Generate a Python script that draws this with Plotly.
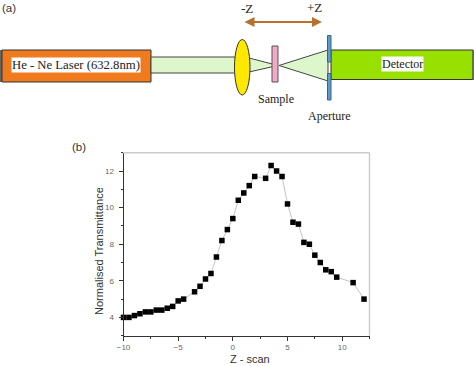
import plotly.graph_objects as go

z_scan = [-10, -9.5, -9, -8.5, -8, -7.5, -7, -6.5, -6, -5.5, -5, -4.5, -3.5, -3, -2.5, -2, -1.5, -1, -0.5, 0,
          0.5, 1, 1.5, 2, 3, 3.5, 4, 4.5, 5, 5.5, 6, 6.5, 7, 7.5, 8, 8.5, 9, 9.5, 11, 12]
transmittance = [4.0, 4.0, 4.1, 4.2, 4.3, 4.3, 4.4, 4.4, 4.5, 4.6, 4.9, 5.0, 5.4, 5.7, 6.1, 6.4, 7.3, 8.2, 8.8, 9.4,
                 10.4, 10.8, 11.2, 11.7, 11.6, 12.3, 12.0, 11.7, 10.2, 9.2, 9.1, 8.1, 8.0, 7.4, 7.0, 6.6, 6.5, 6.2, 5.9, 5.0]
x_ticks = [-10, -5, 0, 5, 10]
y_ticks = [4, 6, 8, 10, 12]

W, H = 474, 366
L, R, T, B = 123.5, 369.5, 152.7, 335.7

def px(x): return x / W
def py(y): return 1 - y / H

def rect(x0, y0, x1, y1, fill, line="#333333", lw=1):
    return dict(type="rect", xref="paper", yref="paper", x0=px(x0), x1=px(x1), y0=py(y0), y1=py(y1),
                fillcolor=fill, line=dict(color=line, width=lw), layer="below")

def poly(points, fill, line="#444444", lw=1):
    path = "M " + " L ".join(f"{px(a):.5f},{py(b):.5f}" for a, b in points) + " Z"
    return dict(type="path", xref="paper", yref="paper", path=path, fillcolor=fill,
                line=dict(color=line, width=lw), layer="below")

shapes = [
    rect(0, 50, 2.5, 82, "#666666", "#666666", 0),
    rect(2, 50, 151, 82, "#F07A1E", "#333333", 1),
    rect(151, 57, 236, 73, "#DDF6CC", "#444444", 1),
    poly([(249, 58), (278, 65.5), (249, 72)], "#DDF6CC"),
    poly([(279, 65.5), (328, 50), (328, 81)], "#DDF6CC"),
    dict(type="circle", xref="paper", yref="paper", x0=px(234.5), x1=px(250), y0=py(39.5), y1=py(95),
         fillcolor="#FFE800", line=dict(color="#333333", width=1), layer="below"),
    rect(272, 46, 278, 82, "#F4A8C8", "#555555", 1),
    rect(331, 50, 473, 79.5, "#98E000", "#333333", 1),
    rect(472.5, 50, 474, 80, "#666666", "#666666", 0),
    rect(327.5, 35.5, 331, 62, "#5C9BD0", "#40607A", 1),
    rect(327.5, 73.5, 331, 100, "#5C9BD0", "#40607A", 1),
    dict(type="line", xref="paper", yref="paper", x0=px(L), x1=px(R), y0=py(T), y1=py(T),
         line=dict(color="#CCCCCC", width=1.5)),
    dict(type="line", xref="paper", yref="paper", x0=px(R), x1=px(R), y0=py(T), y1=py(B),
         line=dict(color="#CCCCCC", width=1.5)),
]

def label(x, y, text, size, family="Liberation Serif", color="#222222", **kw):
    return dict(xref="paper", yref="paper", x=px(x), y=py(y), text=text, showarrow=False,
                font=dict(family=family, size=size, color=color), xanchor="center", yanchor="middle", **kw)

annotations = [
    label(9, 8, "(a)", 11.5, "Liberation Sans", "#333333"),
    label(79, 147, "(b)", 11.5, "Liberation Sans", "#333333"),
    label(76, 65, "He - Ne Laser (632.8nm)", 12.7, bgcolor="white", borderpad=0),
    label(402, 64, "Detector", 12, bgcolor="white", borderpad=0),
    label(247, 8, "-Z", 13),
    label(314, 7, "+Z", 13),
    label(276, 98.5, "Sample", 12),
    label(329, 116.5, "Aperture", 12),
    dict(xref="paper", yref="paper", axref="pixel", ayref="pixel", x=px(322), y=py(22), ax=-79, ay=0,
         text="", showarrow=True, arrowside="end+start", arrowhead=2, arrowsize=1, arrowwidth=2, arrowcolor="#B8702E"),
    label(250, 359, "Z - scan", 11, "Liberation Sans", "#333333"),
    label(99, 251, "Normalised Transmittance", 11, "Liberation Sans", "#333333", textangle=-90),
]

axis_common = dict(showgrid=False, zeroline=False, showline=True, linecolor="#333333", linewidth=1,
                   ticks="outside", ticklen=4, tickcolor="#333333", automargin=False,
                   tickfont=dict(family="Liberation Sans", size=8, color="#666666"))

fig = go.Figure(go.Scatter(x=z_scan, y=transmittance, mode="lines+markers",
                           line=dict(color="#C4C4C4", width=1),
                           marker=dict(symbol="square", size=5.5, color="black"),
                           cliponaxis=False))
fig.update_layout(
    width=W, height=H, margin=dict(l=0, r=0, t=0, b=0), paper_bgcolor="white", plot_bgcolor="white",
    showlegend=False, shapes=shapes, annotations=annotations,
    xaxis=dict(domain=[px(L), px(R)], range=[-10, 12.5], tickvals=x_ticks, ticktext=["−10", "−5", "0", "5", "10"],
               minor=dict(tickvals=[-7.5, -2.5, 2.5, 7.5, 12.5], ticks="outside", ticklen=2, tickcolor="#333333"),
               **axis_common),
    yaxis=dict(domain=[py(B), py(T)], range=[3, 13], tickvals=y_ticks, ticklabelstandoff=3,
               minor=dict(tickvals=[3, 5, 7, 9, 11, 13], ticks="outside", ticklen=2, tickcolor="#333333"),
               **axis_common),
)
fig.write_html("out.html", config=dict(displayModeBar=False),
               post_script="document.body.style.margin='0';")
